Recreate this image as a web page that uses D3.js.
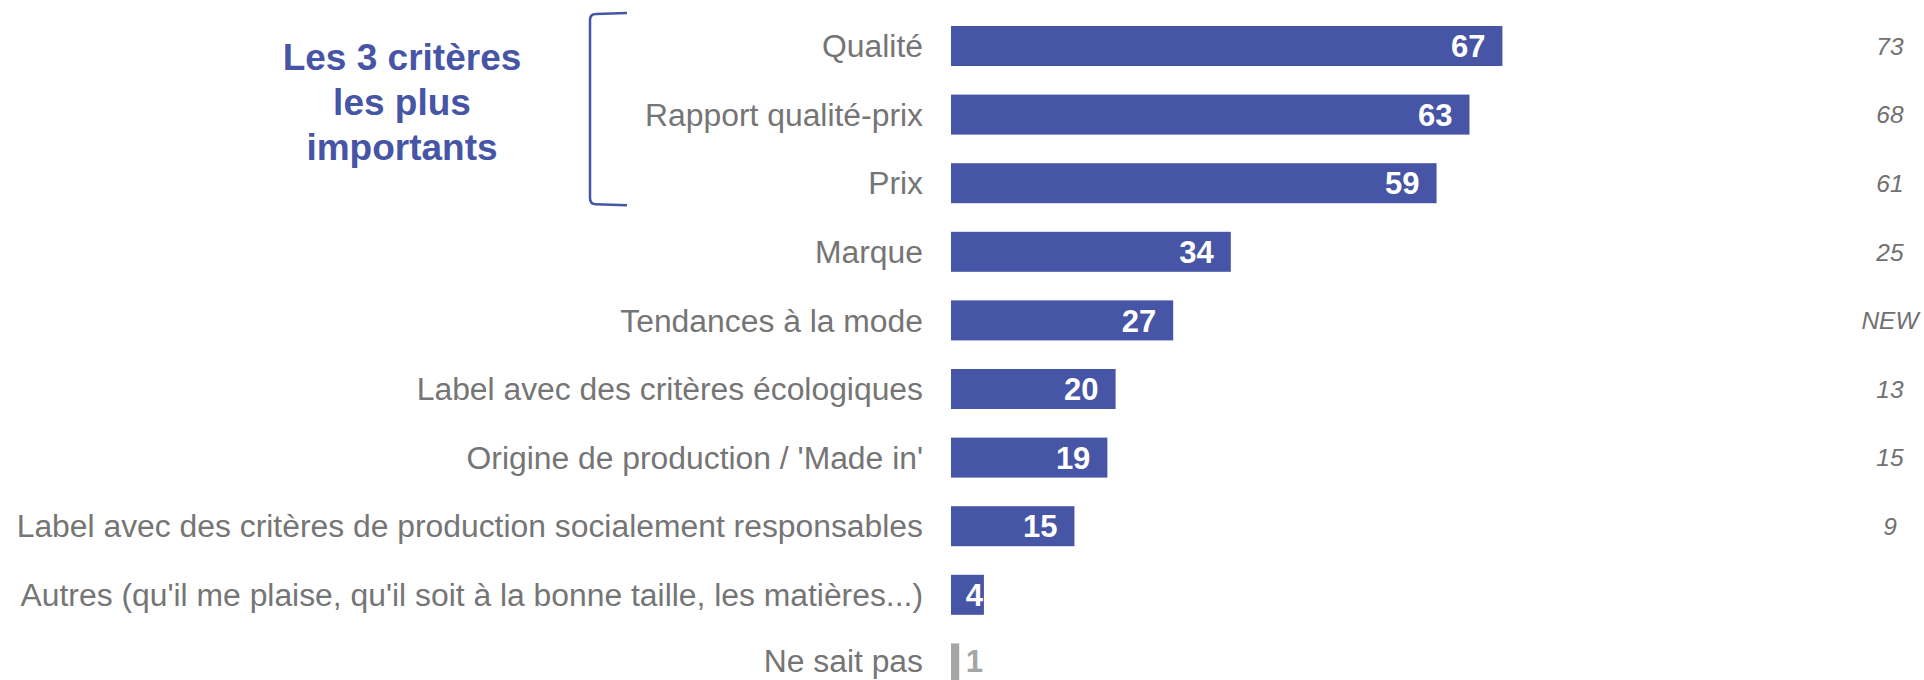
<!DOCTYPE html>
<html>
<head>
<meta charset="utf-8">
<script src="https://cdn.jsdelivr.net/npm/d3@7"></script>
<style>
  html, body { margin: 0; padding: 0; background: #ffffff; }
  svg { display: block; }
  text { font-family: "Liberation Sans", Arial, sans-serif; }
</style>
</head>
<body>
<svg id="chart" width="1924" height="680"></svg>
<script>
// ---- Data ----
const categories = [
  "Qualité",
  "Rapport qualité-prix",
  "Prix",
  "Marque",
  "Tendances à la mode",
  "Label avec des critères écologiques",
  "Origine de production / 'Made in'",
  "Label avec des critères de production socialement responsables",
  "Autres (qu'il me plaise, qu'il soit à la bonne taille, les matières...)",
  "Ne sait pas"
];
const values = [67, 63, 59, 34, 27, 20, 19, 15, 4, 1];
const previousValues = ["73", "68", "61", "25", "NEW", "13", "15", "9", "", ""];
const titleLines = ["Les 3 critères", "les plus", "importants"];
const highlightCount = 3;

// ---- Styles ----
const BLUE = "#4655A5";
const GREY_BAR = "#A6A6A6";
const LABEL_GREY = "#757575";

const svg = d3.select("#chart");

const step = 68.6, barH = 40;
const pInner = 1 - barH / step;
const y = d3.scaleBand()
  .domain(categories)
  .range([11.7, 11.7 + step * categories.length])
  .paddingInner(pInner)
  .paddingOuter(pInner / 2);

const x = d3.scaleLinear().domain([0, 100]).range([951, 1774]);
const lastCat = categories[categories.length - 1];

// Category axis (labels only)
const axis = d3.axisLeft(y).tickSize(0).tickPadding(0);
const gAxis = svg.append("g")
  .attr("transform", "translate(923,0)")
  .call(axis);
gAxis.select(".domain").remove();
gAxis.selectAll("text")
  .attr("font-family", "'Liberation Sans', Arial, sans-serif")
  .attr("font-size", 31.85)
  .attr("fill", LABEL_GREY)
  .attr("dy", d => d === lastCat ? "0.28em" : "0.35em");

// Bars
const isDK = (d, i) => i === categories.length - 1;
svg.append("g").selectAll("rect")
  .data(values)
  .join("rect")
  .attr("x", x(0))
  .attr("y", (d, i) => y(categories[i]))
  .attr("width", d => x(d) - x(0))
  .attr("height", y.bandwidth())
  .attr("fill", (d, i) => isDK(d, i) ? GREY_BAR : BLUE);

// Value labels
svg.append("g").selectAll("text")
  .data(values)
  .join("text")
  .attr("x", d => Math.max(x(d) - 17, x(0) + 32))
  .attr("y", (d, i) => y(categories[i]) + y.bandwidth() / 2)
  .attr("dy", (d, i) => isDK(d, i) ? "0.28em" : "0.36em")
  .attr("text-anchor", "end")
  .attr("font-size", 31)
  .attr("font-weight", "bold")
  .attr("fill", (d, i) => isDK(d, i) ? GREY_BAR : "#ffffff")
  .text(d => d);

// Previous wave column
svg.append("g").selectAll("text")
  .data(previousValues)
  .join("text")
  .attr("x", 1890)
  .attr("y", (d, i) => y(categories[i]) + y.bandwidth() / 2)
  .attr("dy", "0.36em")
  .attr("text-anchor", "middle")
  .attr("font-size", 24.5)
  .attr("font-style", "italic")
  .attr("fill", "#707070")
  .text(d => d);

// Bracket around top 3
const topY = y(categories[0]) - 13;
const botY = y(categories[highlightCount - 1]) + y.bandwidth() + 1;
const bx = 590, bxr = 627, r = 6;
svg.append("path")
  .attr("d", `M${bxr},${topY} L${bx + r},${topY + 1} Q${bx},${topY + 1} ${bx},${topY + 1 + r} L${bx},${botY - r} Q${bx},${botY} ${bx + r},${botY} L${bxr},${botY + 1}`)
  .attr("fill", "none")
  .attr("stroke", BLUE)
  .attr("stroke-width", 2.5);

// Title
svg.append("g").selectAll("text")
  .data(titleLines)
  .join("text")
  .attr("x", 402)
  .attr("y", (d, i) => 70 + i * 45)
  .attr("text-anchor", "middle")
  .attr("font-size", 37)
  .attr("font-weight", "bold")
  .attr("fill", BLUE)
  .text(d => d);
</script>
</body>
</html>
